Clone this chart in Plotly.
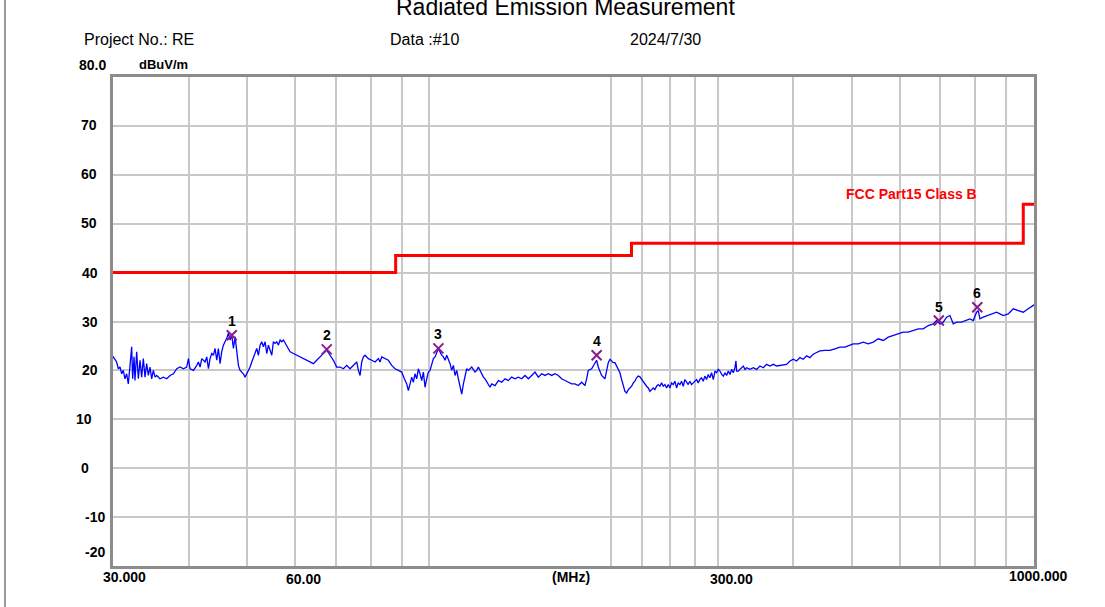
import math
import plotly.graph_objects as go

# ---------------- data ----------------
freq_mhz = [30.00, 30.03, 30.42, 30.61, 30.81, 31.01, 31.20, 31.40, 31.60, 31.80, 32.01, 32.21, 32.33, 32.50, 32.62,
            32.83, 33.04, 33.25, 33.46, 33.67, 33.89, 34.10, 34.32, 34.54, 34.76, 34.98, 35.21, 35.43, 35.88,
            36.34, 36.81, 37.28, 37.76, 38.24, 38.73, 39.22, 39.72, 39.98, 40.23, 40.75, 41.27, 41.53, 41.79,
            42.06, 42.60, 42.87, 43.14, 43.41, 43.69, 43.97, 44.25, 44.53, 44.81, 45.10, 45.38, 45.67, 45.96,
            46.26, 46.55, 46.85, 47.15, 47.45, 47.75, 48.05, 48.36, 48.67, 48.98, 49.29, 49.60, 49.92, 50.24,
            50.56, 50.88, 51.20, 51.53, 51.86, 52.19, 52.52, 52.85, 53.19, 53.53, 53.87, 54.21, 54.56, 54.91,
            55.25, 55.61, 55.96, 56.32, 56.68, 57.04, 57.40, 57.77, 58.13, 58.50, 58.88, 59.63, 60.39, 61.16,
            61.94, 62.73, 63.53, 64.34, 65.16, 65.99, 66.84, 67.69, 68.55, 69.43, 70.31, 71.21, 72.12, 73.04,
            73.97, 74.92, 75.88, 76.36, 76.85, 77.34, 77.83, 78.32, 78.82, 79.32, 80.34, 81.36, 82.40, 82.93,
            83.45, 84.52, 85.60, 86.69, 87.80, 88.92, 90.05, 90.97, 91.79, 92.37, 92.96, 93.55, 94.14, 94.74,
            95.35, 95.95, 96.56, 97.18, 97.80, 98.42, 99.05, 99.68, 100.31, 100.95, 101.59, 102.24, 102.89,
            103.55, 104.21, 104.87, 105.54, 106.21, 106.89, 107.57, 108.25, 108.94, 109.63, 110.33, 111.03,
            111.74, 112.45, 113.17, 113.89, 114.61, 115.34, 116.08, 116.82, 117.56, 119.06, 119.82, 120.58,
            121.35, 122.12, 122.90, 123.68, 124.47, 125.26, 126.06, 126.86, 128.48, 130.12, 131.78, 133.46,
            135.16, 136.89, 138.63, 140.40, 142.19, 144.01, 145.85, 147.71, 149.59, 151.50, 153.43, 155.39,
            157.38, 159.38, 161.42, 163.48, 165.56, 167.68, 169.82, 171.98, 174.18, 176.40, 178.65, 180.93,
            182.08, 183.24, 185.58, 186.76, 187.95, 189.14, 190.34, 192.77, 195.23, 196.48, 197.73, 198.99,
            200.26, 201.53, 202.81, 204.10, 205.40, 206.71, 208.03, 209.35, 210.68, 212.02, 213.37, 214.73,
            216.09, 217.47, 218.85, 220.24, 221.64, 223.05, 224.47, 225.90, 227.34, 228.78, 230.24, 231.70,
            233.18, 234.66, 236.15, 237.65, 239.16, 240.68, 242.22, 243.76, 245.30, 246.87, 248.44, 250.02,
            251.61, 253.21, 254.82, 256.44, 258.07, 259.71, 261.37, 263.03, 264.70, 266.39, 268.08, 269.78,
            271.50, 273.23, 274.97, 276.72, 278.48, 280.25, 282.04, 283.83, 285.64, 287.45, 289.28, 291.12,
            292.97, 294.95, 296.82, 298.71, 300.61, 302.53, 304.45, 306.39, 308.34, 310.30, 312.27, 314.26,
            316.26, 318.27, 320.30, 321.52, 322.33, 324.39, 326.45, 328.53, 330.62, 332.72, 334.84, 339.12,
            343.45, 347.83, 352.27, 356.77, 361.32, 365.93, 370.60, 375.33, 380.12, 384.98, 389.89, 394.87,
            399.91, 405.01, 410.18, 415.42, 420.72, 426.09, 431.53, 437.04, 442.61, 451.13, 459.80, 468.64,
            477.65, 486.84, 493.07, 502.53, 512.19, 522.04, 532.07, 542.29, 552.71, 563.33, 574.16, 585.19,
            596.44, 607.90, 619.58, 631.49, 643.63, 656.00, 668.61, 681.46, 690.18, 698.97, 707.88, 716.94,
            726.10, 735.36, 744.76, 759.08, 773.66, 783.55, 793.54, 803.67, 808.78, 813.93, 824.30, 840.14,
            856.30, 867.25, 878.30, 889.51, 906.61, 924.05, 941.77, 959.89, 978.32, 997.13, 1000.00]

level_dbuv = [22.7, 22.76, 21.72, 20.34, 20.69, 19.31, 20.00, 18.28, 19.31, 17.24, 21.03, 24.83, 18.28, 22.76, 17.93,
              23.79, 18.28, 22.07, 18.62, 22.41, 18.62, 21.38, 18.97, 20.69, 18.28, 20.00, 18.62, 18.97, 18.28,
              18.62, 18.28, 18.97, 19.31, 20.34, 20.69, 20.34, 20.69, 22.41, 20.34, 20.00, 21.03, 21.72, 20.69,
              22.41, 21.72, 22.76, 20.34, 22.41, 23.45, 23.10, 24.48, 22.07, 24.48, 21.38, 23.79, 25.17, 25.86,
              26.55, 27.59, 26.21, 27.24, 24.48, 26.90, 23.45, 21.03, 20.00, 19.66, 19.31, 18.62, 19.31, 20.34,
              20.69, 21.72, 22.76, 23.45, 24.48, 23.10, 25.17, 25.86, 24.83, 25.86, 23.45, 25.17, 24.14, 23.10,
              25.86, 25.52, 25.86, 25.17, 26.21, 25.86, 26.21, 25.52, 24.83, 24.48, 23.79, 23.45, 23.10, 22.76,
              22.41, 22.07, 21.72, 21.38, 22.07, 22.76, 23.45, 24.14, 23.10, 22.07, 20.69, 20.69, 20.34, 21.03,
              20.34, 21.03, 21.72, 20.00, 18.97, 21.72, 22.76, 23.10, 22.76, 22.41, 22.07, 21.72, 22.41, 21.72,
              22.76, 22.41, 22.07, 21.03, 20.34, 20.00, 19.66, 18.28, 17.24, 15.86, 17.24, 18.62, 17.59, 19.31,
              18.28, 20.34, 19.31, 17.93, 19.66, 16.55, 18.28, 19.66, 20.00, 21.38, 22.41, 22.76, 23.45,
              24.48, 23.79, 23.10, 22.76, 22.07, 23.10, 22.41, 21.38, 20.00, 21.03, 18.97, 20.00,
              18.28, 16.55, 15.17, 17.24, 18.97, 20.34, 20.00, 20.34, 20.69, 19.66, 20.00, 20.69,
              20.00, 19.31, 18.62, 18.28, 17.59, 16.90, 16.55, 17.24, 16.90, 17.93, 17.59, 18.28,
              17.93, 18.62, 18.28, 18.62, 18.28, 18.97, 18.28, 18.97, 19.66, 18.62, 19.31, 18.97,
              19.31, 18.97, 19.31, 18.97, 18.28, 17.93, 17.59, 17.24, 17.24, 16.90, 17.59, 16.90,
              18.28, 20.00, 20.34, 21.03, 21.38, 22.07, 20.69, 18.97, 18.28, 19.86, 21.59, 22.28,
              21.93, 21.59, 21.59, 20.90, 20.21, 19.52, 18.14, 16.76, 15.72, 15.38, 16.07, 16.41,
              16.76, 17.45, 17.79, 18.48, 18.83, 18.69, 18.14, 17.79, 17.10, 16.76, 16.41, 15.72,
              16.07, 16.41, 16.07, 16.76, 17.10, 16.76, 17.45, 16.76, 17.10, 16.41, 17.10, 16.41,
              17.45, 17.10, 17.79, 16.41, 17.45, 17.10, 17.79, 16.76, 18.14, 17.45, 17.10, 17.79,
              17.10, 17.45, 17.79, 18.14, 17.45, 18.14, 18.48, 17.79, 18.83, 18.14, 19.17, 18.48,
              19.52, 18.14, 19.86, 19.52, 20.21, 19.86, 19.17, 18.83, 19.52, 18.97, 19.86, 19.17,
              20.21, 19.52, 20.55, 21.93, 19.86, 19.86, 20.21, 20.55, 20.90, 20.21, 20.55, 20.21,
              20.55, 20.21, 20.90, 20.55, 21.24, 20.90, 21.24, 20.90, 21.03, 21.24, 21.24, 21.93,
              22.28, 21.93, 22.62, 22.28, 22.97, 22.62, 23.31, 23.66, 24.00, 24.08, 24.08, 24.42,
              24.76, 24.76, 25.10, 25.44, 25.44, 25.78, 25.44, 25.78, 26.46, 26.12, 26.80, 27.14,
              27.48, 27.82, 27.82, 28.16, 28.50, 28.50, 29.18, 29.52, 30.20, 29.52, 29.86, 30.88,
              31.22, 29.52, 29.86, 29.86, 30.20, 30.54, 30.20, 31.90, 32.24, 30.54, 30.88, 31.22,
              31.56, 31.90, 31.56, 31.22, 31.56, 32.59, 32.24, 31.90, 32.59, 33.27, 33.40]

limit_freq_mhz = [30, 88, 88, 216, 216, 960, 960, 1000]
limit_dbuv = [40, 40, 43.5, 43.5, 46, 46, 54, 54]
limit_name = "FCC Part15 Class B"

peak_freq_mhz = [47.15, 67.69, 103.55, 189.14, 696.0, 805.8]
peak_dbuv = [27.2, 24.3, 24.5, 23.1, 30.2, 32.9]
peak_labels = ["1", "2", "3", "4", "5", "6"]

x_grid_mhz = [40, 50, 60, 70, 80, 90, 100, 200, 225, 250, 275, 300, 400, 500, 600, 700, 800, 900]
y_grid_db = [-10, 0, 10, 20, 30, 40, 50, 60, 70]
y_tick_labels = ["80.0", "70", "60", "50", "40", "30", "20", "10", "0", "-10", "-20"]
y_tick_values = [80, 70, 60, 50, 40, 30, 20, 10, 0, -10, -20]
x_tick_labels = ["30.000", "60.00", "(MHz)", "300.00", "1000.000"]

title_text = "Radiated Emission Measurement"
header_texts = ["Project No.: RE", "Data :#10", "2024/7/30"]
y_unit = "dBuV/m"

# ---------------- layout geometry (pixels) ----------------
W, H = 1105, 607
L, R, T, B = 113, 1034, 77, 566
PW, PH = R - L, B - T

def px_x(px):
    return (px - L) / PW

def px_y(py):
    return (B - py) / PH

BOLD = "Liberation Sans, Arial, sans-serif"
REG = "Liberation Sans, Arial, sans-serif"

fig = go.Figure()

fig.add_trace(go.Scatter(x=freq_mhz, y=level_dbuv, mode="lines",
                         line=dict(color="#0000ff", width=1.3), hoverinfo="skip", showlegend=False))
fig.add_trace(go.Scatter(x=limit_freq_mhz, y=limit_dbuv, mode="lines",
                         line=dict(color="#ff0000", width=3), showlegend=False))
fig.add_trace(go.Scatter(x=peak_freq_mhz, y=peak_dbuv, mode="markers",
                         marker=dict(symbol="x-thin", size=10, line=dict(color="#8b1a8b", width=2)),
                         showlegend=False))

annotations = []
# peak number labels
for f, v, t in zip(peak_freq_mhz, peak_dbuv, peak_labels):
    annotations.append(dict(text="<b>%s</b>" % t, xref="x", yref="y", x=math.log10(f), y=v,
                            xanchor="center", yanchor="middle", yshift=14, showarrow=False,
                            font=dict(family=BOLD, size=14, color="#000")))
# y tick labels
y_lab_left = [77, 79, 79, 79, 80, 80, 80, 74, 79, 83, 83]
y_lab_shift = [12, 1, 1, 1, 0, 0, 0, 0, 0, 0, 14]
for t, v, lx, sh in zip(y_tick_labels, y_tick_values, y_lab_left, y_lab_shift):
    annotations.append(dict(text="<b>%s</b>" % t, xref="paper", yref="y", x=px_x(lx), y=v,
                            xanchor="left", yanchor="middle", yshift=sh, showarrow=False,
                            font=dict(family=BOLD, size=14, color="#000")))
# x tick labels
x_lab_center = [124.5, 303.5, 571, 731.5, 1038.5]
x_lab_y = [577, 579, 577, 579, 576]
for t, cx, cy in zip(x_tick_labels, x_lab_center, x_lab_y):
    annotations.append(dict(text="<b>%s</b>" % t, xref="paper", yref="paper", x=px_x(cx), y=px_y(cy),
                            xanchor="center", yanchor="middle", showarrow=False,
                            font=dict(family=BOLD, size=14, color="#000")))
# unit
annotations.append(dict(text="<b>%s</b>" % y_unit, xref="paper", yref="paper", x=px_x(137), y=px_y(64),
                        xanchor="left", yanchor="middle", showarrow=False,
                        font=dict(family=BOLD, size=13, color="#000")))
# header
hdr_left = [82, 388, 628]
for t, lx in zip(header_texts, hdr_left):
    annotations.append(dict(text=t, xref="paper", yref="paper", x=px_x(lx), y=px_y(40),
                            xanchor="left", yanchor="middle", showarrow=False,
                            font=dict(family=REG, size=16, color="#000")))
annotations.append(dict(text=title_text, xref="paper", yref="paper", x=px_x(565), y=px_y(7),
                        xanchor="center", yanchor="middle", showarrow=False,
                        font=dict(family=REG, size=23, color="#000")))
# limit name
annotations.append(dict(text="<b>%s</b>" % limit_name, xref="paper", yref="paper", x=px_x(911), y=px_y(194),
                        xanchor="center", yanchor="middle", showarrow=False,
                        font=dict(family=BOLD, size=14, color="#ff0000")))

shapes = [dict(type="line", xref="paper", yref="paper", x0=px_x(5), x1=px_x(5), y0=px_y(0), y1=px_y(607),
               line=dict(color="#9a9a9a", width=2))]

fig.update_layout(
    width=W, height=H,
    margin=dict(l=L, r=W - R, t=T, b=H - B),
    paper_bgcolor="white", plot_bgcolor="white",
    xaxis=dict(type="log", range=[math.log10(30), math.log10(1000)], tickvals=x_grid_mhz,
               showticklabels=False, ticks="", showgrid=True, gridcolor="#c8c8c8", gridwidth=2,
               showline=True, mirror=True, linecolor="#8c8c8c", linewidth=3, zeroline=False),
    yaxis=dict(range=[-20, 80], tickvals=y_grid_db, showticklabels=False, ticks="",
               showgrid=True, gridcolor="#c8c8c8", gridwidth=2,
               showline=True, mirror=True, linecolor="#8c8c8c", linewidth=3, zeroline=False),
    annotations=annotations, shapes=shapes, showlegend=False,
)

fig.write_html("out.html", config={"displayModeBar": False},
               post_script="document.body.style.margin='0';document.body.style.overflow='hidden';")
